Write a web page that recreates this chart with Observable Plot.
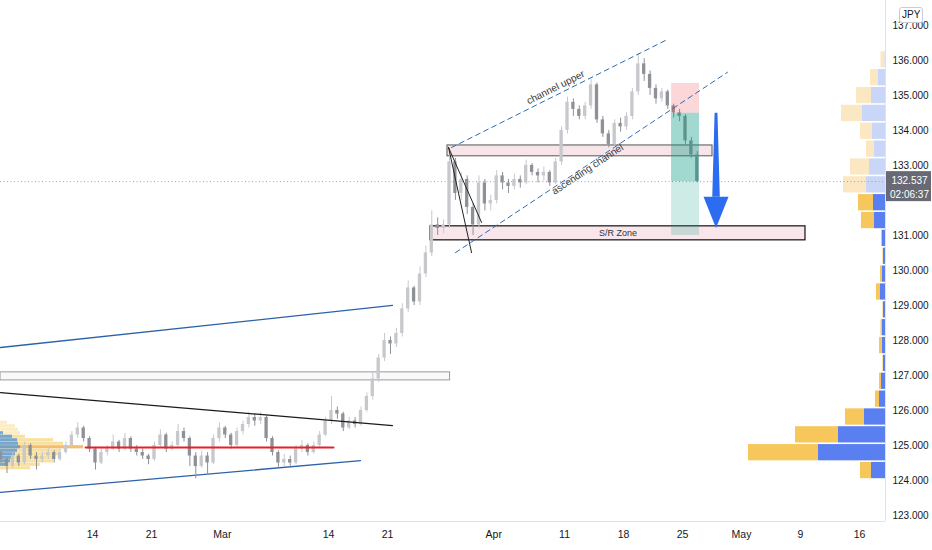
<!DOCTYPE html>
<html><head><meta charset="utf-8">
<script src="https://cdn.jsdelivr.net/npm/d3@7"></script>
<script src="https://cdn.jsdelivr.net/npm/@observablehq/plot@0.6"></script>
<style>
body{margin:0;background:#fff;}
#wrap{position:relative;width:932px;height:550px;overflow:hidden;background:#fff;}
#jpy{position:absolute;left:899px;top:7px;font:10px 'Liberation Sans',sans-serif;color:#131722;border:1px solid #c9ccd4;border-radius:3px;padding:1px 2px;background:#fff;line-height:12px;}
</style></head><body><div id="wrap"><div id="jpy">JPY</div></div>
<script>
// ---- time axis (trading-day index, 0 = Feb 14) ----
const dayTicks  = [0, 5, 11, 20, 25, 34, 40, 45, 50, 55, 60, 65];
const dayLabels = ["14","21","Mar","14","21","Apr","11","18","25","May","9","16"];
// 132.000 is hidden behind the last-price label in the reference
const priceTicks = [123,124,125,126,127,128,129,130,131,133,134,135,136,137];

// ---- candles (12h bars) ----
const candleStart = -7.75, candleStep = 0.5;
const firstOpen = 124.8;
const closes = [124.6,124.4,124.7,124.5,125.0,124.7,124.6,124.7,124.8,124.6,
124.8,125.0,125.3,125.5,125.2,124.9,124.5,124.8,124.9,125.1,
124.9,125.2,124.9,124.8,124.7,124.6,125.0,125.3,124.9,125.0,
125.4,125.2,124.7,124.4,124.7,124.5,125.2,125.5,125.3,125.0,
125.4,125.6,125.8,125.7,125.8,125.2,124.8,124.5,124.6,124.5,
124.9,125.0,124.8,125.0,125.3,125.7,126.0,125.9,125.5,125.7,
125.6,126.0,126.4,126.9,127.5,128.0,127.9,128.2,128.9,129.5,
129.1,129.9,130.5,131.3,131.2,131.3,133.1,132.2,132.6,131.8,
131.3,132.5,131.9,132.0,132.7,132.5,132.4,132.6,132.5,133.0,
132.8,132.7,132.8,132.5,133.1,134.0,134.8,134.6,134.4,134.7,
135.3,134.3,133.9,133.6,134.2,134.1,134.4,135.1,135.9,135.6,
135.2,134.9,135.1,134.7,134.5,134.4,133.7,133.3,132.537];
const highs = [124.85,124.65,124.8,124.75,125.1,125.05,124.8,124.8,124.95,124.85,
124.9,125.1,125.4,125.65,125.55,125.25,124.95,124.9,125.0,125.3,
125.15,125.35,125.25,125.0,124.9,124.75,125.1,125.45,125.35,125.1,
125.6,125.5,125.25,124.8,124.85,124.8,125.3,125.65,125.55,125.35,
125.5,125.7,125.95,125.9,125.95,125.85,125.25,124.85,124.75,124.7,
125.0,125.15,125.05,125.1,125.4,125.8,126.4,126.1,125.95,125.8,
125.8,126.1,126.5,127.1,127.6,128.2,128.1,128.35,129.05,129.7,
129.55,130.1,130.7,131.7,131.5,131.45,133.5,133.2,132.8,132.7,
131.9,132.7,132.6,132.15,132.85,132.8,132.6,132.75,132.7,133.15,
133.05,132.9,132.95,132.85,133.2,134.1,134.95,134.9,134.7,134.8,
135.45,135.35,134.4,134.0,134.3,134.35,134.5,135.2,136.2,136.05,
135.7,135.3,135.2,135.15,134.75,134.6,134.45,133.8,133.4];
const lows = [124.5,124.2,124.35,124.4,124.45,124.6,124.3,124.5,124.6,124.5,
124.55,124.75,124.95,125.2,125.1,124.8,124.3,124.45,124.7,124.85,
124.8,124.85,124.8,124.7,124.6,124.45,124.55,124.95,124.8,124.85,
124.95,125.1,124.4,124.05,124.35,124.15,124.45,125.1,125.2,124.9,
124.95,125.3,125.5,125.55,125.6,125.1,124.7,124.35,124.4,124.35,
124.45,124.8,124.7,124.75,124.95,125.25,125.6,125.75,125.4,125.45,
125.5,125.55,125.95,126.3,126.8,127.4,127.6,127.8,128.1,128.8,
129.0,129.0,129.8,130.4,131.0,131.05,131.2,132.0,132.0,131.6,
131.0,131.2,131.7,131.7,131.9,132.3,132.2,132.3,132.35,132.45,
132.7,132.5,132.55,132.4,132.45,133.0,133.9,134.4,134.3,134.3,
134.6,134.2,133.8,133.5,133.55,133.95,134.0,134.3,135.0,135.4,
135.0,134.75,134.8,134.6,134.35,134.25,133.6,133.2,132.5];
const lastPrice = 132.537;
const countdown = "02:06:37";

// ---- session volume profile (right) ----
const profileLevels = [124.03,124.54,125.05,125.56,126.07,126.58,127.09,127.60,128.11,128.62,129.13,129.64,
130.15,130.66,131.17,131.68,132.19,132.70,133.21,133.72,134.23,134.74,135.25,135.76];
const profileBuy  = [14,67,47,21,6,4,2,3,3,2,5,3,2,3,11,12,19,16,11,13,23,14,7,0.5];
const profileSell = [11,70,43,19,4,2,0.5,3,1.5,0.5,4,2,0.5,1,13,15,23,19,8,12,21,15,8,4];
const profileInValueArea = [1,1,1,1,1,1,1,1,1,1,1,1,1,1,1,1,0,0,0,0,0,0,0,0];

// ---- visible range profile (left) ----
const leftProfilePrice = [125.65,125.55,125.45,125.35,125.25,125.15,125.05,124.95,124.85,124.75,124.65,124.55,124.45,124.35];
const leftProfileBuy   = [0,0,0,3,12,17,18,20,17,15,13,10,7,0];
const leftProfileSell  = [7,15,18,17,13,36,45,63,43,43,40,43,33,30];
const leftProfilePOC = 124.95;

// ---- drawings ----
const blueUpperLine  = [[-7.8,127.80],[25.42,129.0]];
const blueLowerLine  = [[-7.8,123.66],[22.71,124.57]];
const blackTrendLine = [[-7.8,126.51],[25.42,125.57]];
const redLevel = {from:-0.59, to:20.42, price:124.94};
const channelUpper = [[30.42,133.51],[48.56,136.57]];
const channelLower = [[30.76,130.51],[53.81,135.66]];
const wedgeA = [[30.17,133.51],[32.97,131.37]];
const wedgeB = [[30.17,133.51],[32.12,130.51]];
const greyZone = {x1:-7.8, x2:30.3, y1:126.86, y2:127.09};
const resistanceBox = {x1:30.08, x2:52.54, y1:133.26, y2:133.57};
const srZone = {x1:28.64, x2:60.42, y1:130.86, y2:131.26, label:"S/R Zone"};
const shortTrade = {x1:49.07, x2:51.44, stop:135.34, entry:134.49, target:131.0};
const arrow = {t:52.88, from:134.49, headBase:132.09, to:131.2};
const notes = [
  {t:39.24, p:135.23, text:"channel upper", angle:-26.6},
  {t:41.95, p:132.89, text:"ascending channel", angle:-33.5}
];

// ---- build ----
const xMin = -7.8, xMax = 67.2, yMin = 122.83, yMax = 137.71;
const volToX = 1/11.8;
const candles = closes.map((c,n)=>({t: candleStart + candleStep*n, o: n ? closes[n-1] : firstOpen, h: highs[n], l: lows[n], c}));
const upCol = "#c6c8cc", downCol = "#8e9197";
const rightRows = profileLevels.map((lv,i)=>({lo:lv, hi:lv+0.51, buy:profileBuy[i], sell:profileSell[i], va:profileInValueArea[i]}));
const leftRows = leftProfilePrice.map((p,i)=>({p, buy:leftProfileBuy[i], sell:leftProfileSell[i]}));
const pt = {x:d=>d[0], y:d=>d[1]};
const font = "'Liberation Sans Narrow','Arial Narrow','Liberation Sans',sans-serif";

const chart = Plot.plot({
  width: 932, height: 550,
  marginLeft: 0, marginRight: 47, marginTop: 0, marginBottom: 29,
  x: {domain:[xMin,xMax]},
  y: {domain:[yMin,yMax]},
  color: {type:"identity"},
  style: {fontFamily: font, fontSize:"10px", color:"#131722", background:"#fff", overflow:"visible"},
  marks: [
    // left profile
    Plot.rect(leftRows, {x1:()=>xMin, x2:d=>xMin+(d.buy+d.sell)*volToX, y1:d=>d.p-0.045, y2:d=>d.p+0.045,
      fill:d=>d.p===leftProfilePOC ? "#f3a53c" : "#f6d57e", fillOpacity:d=>d.p>125.3?0.45:0.75}),
    Plot.rect(leftRows, {x1:()=>xMin, x2:d=>xMin+d.buy*volToX, y1:d=>d.p-0.045, y2:d=>d.p+0.045,
      fill:"#4d94dc", fillOpacity:0.75}),
    // right session profile
    Plot.rect(rightRows, {x1:d=>xMax-(d.buy+d.sell)*volToX, x2:d=>xMax-d.buy*volToX, y1:"lo", y2:"hi", insetTop:0.8, insetBottom:0.8,
      fill:d=>d.va ? "#f7c75c" : "#fbe8c2"}),
    Plot.rect(rightRows, {x1:d=>xMax-d.buy*volToX, x2:()=>xMax, y1:"lo", y2:"hi", insetTop:0.8, insetBottom:0.8,
      fill:d=>d.va ? "#5a7ff0" : "#c9d6f7"}),
    // zones under candles
    Plot.rect([greyZone], {x1:"x1", x2:"x2", y1:"y1", y2:"y2", fill:"#f4f4f4", fillOpacity:0.5, stroke:"#9a9a9a", strokeWidth:1}),
    Plot.rect([resistanceBox], {x1:"x1", x2:"x2", y1:"y1", y2:"y2", fill:"#f3cfd9", fillOpacity:0.55, stroke:"#555", strokeWidth:1}),
    Plot.rect([srZone], {x1:"x1", x2:"x2", y1:"y1", y2:"y2", fill:"#f3d5de", fillOpacity:0.6, stroke:"#111", strokeWidth:1.2}),
    Plot.text([srZone], {x:d=>(d.x1+d.x2)/2, y:d=>(d.y1+d.y2)/2, text:"label", fontSize:9, fill:"#333"}),
    // trend lines
    Plot.line(blueUpperLine, {...pt, stroke:"#2c62a8", strokeWidth:1.3}),
    Plot.line(blueLowerLine, {...pt, stroke:"#2c62a8", strokeWidth:1.3}),
    // last price dotted line
    Plot.ruleY([lastPrice], {stroke:"#9ea1a9", strokeWidth:1, strokeDasharray:"1,2.5"}),
    // candles
    Plot.ruleX(candles, {x:"t", y1:"l", y2:"h", stroke:d=>d.c>=d.o?upCol:downCol, strokeWidth:1}),
    Plot.rect(candles, {x1:d=>d.t-0.14, x2:d=>d.t+0.14, y1:d=>Math.min(d.o,d.c), y2:d=>Math.max(d.o,d.c),
      fill:d=>d.c>=d.o?upCol:downCol}),
    Plot.line(blackTrendLine, {...pt, stroke:"#1b1b1b", strokeWidth:1.3}),
    Plot.line([[redLevel.from,redLevel.price],[redLevel.to,redLevel.price]], {...pt, stroke:"#e5202b", strokeWidth:2}),
    // short position
    Plot.rect([shortTrade], {x1:"x1", x2:"x2", y1:"entry", y2:"stop", fill:"#f23645", fillOpacity:0.2}),
    Plot.rect([shortTrade], {x1:"x1", x2:"x2", y1:()=>lastPrice, y2:"entry", fill:"#089981", fillOpacity:0.38}),
    Plot.rect([shortTrade], {x1:"x1", x2:"x2", y1:"target", y2:()=>lastPrice, fill:"#089981", fillOpacity:0.2}),
    // channel drawings
    Plot.line(channelUpper, {...pt, stroke:"#2f6cb3", strokeWidth:1, strokeDasharray:"5,4"}),
    Plot.line(channelLower, {...pt, stroke:"#2f6cb3", strokeWidth:1, strokeDasharray:"5,4"}),
    Plot.line(wedgeA, {...pt, stroke:"#222", strokeWidth:1}),
    Plot.line(wedgeB, {...pt, stroke:"#222", strokeWidth:1}),
    Plot.text(notes, {x:"t", y:"p", text:"text", rotate:d=>d.angle, fontSize:10, fill:"#3a3a3a"}),
    // arrow
    Plot.areaX([arrow.from, arrow.headBase], {y:d=>d, x1:d=>arrow.t-(d===arrow.from?0.12:0.32), x2:d=>arrow.t+(d===arrow.from?0.12:0.32), fill:"#2b6cf0"}),
    Plot.areaY([-1.06,0,1.06], {x:d=>arrow.t+d, y1:d=>d===0?arrow.to:arrow.headBase, y2:()=>arrow.headBase, fill:"#2b6cf0"}),
    // frame separators
    Plot.ruleX([xMax], {stroke:"#e0e3eb"}),
    Plot.ruleY([yMin], {stroke:"#e0e3eb"}),
    // axes
    Plot.axisX(dayTicks, {anchor:"bottom", tickSize:0, tickPadding:9, label:null, fill:"#131722", fontSize:10.5,
      tickFormat:d=>dayLabels[dayTicks.indexOf(d)]}),
    Plot.axisY(priceTicks, {anchor:"right", tickSize:0, tickPadding:7, label:null, fill:"#131722", fontSize:10,
      tickFormat:d3.format(".3f")}),
    // last price label
    Plot.rect([lastPrice], {x1:()=>xMax, x2:()=>xMax, y1:d=>d, y2:d=>d, insetLeft:1, insetRight:-46, insetTop:-10, insetBottom:-20, fill:"#676a74"}),
    Plot.text([lastPrice], {x:()=>xMax, y:d=>d, text:d=>d.toFixed(3), dx:24, dy:-1, fill:"#fff", fontSize:10}),
    Plot.text([countdown], {x:()=>xMax, y:()=>lastPrice, text:d=>d, dx:24, dy:13, fill:"#fff", fontSize:10})
  ]
});
document.getElementById("wrap").prepend(chart);
</script>
</body></html>
